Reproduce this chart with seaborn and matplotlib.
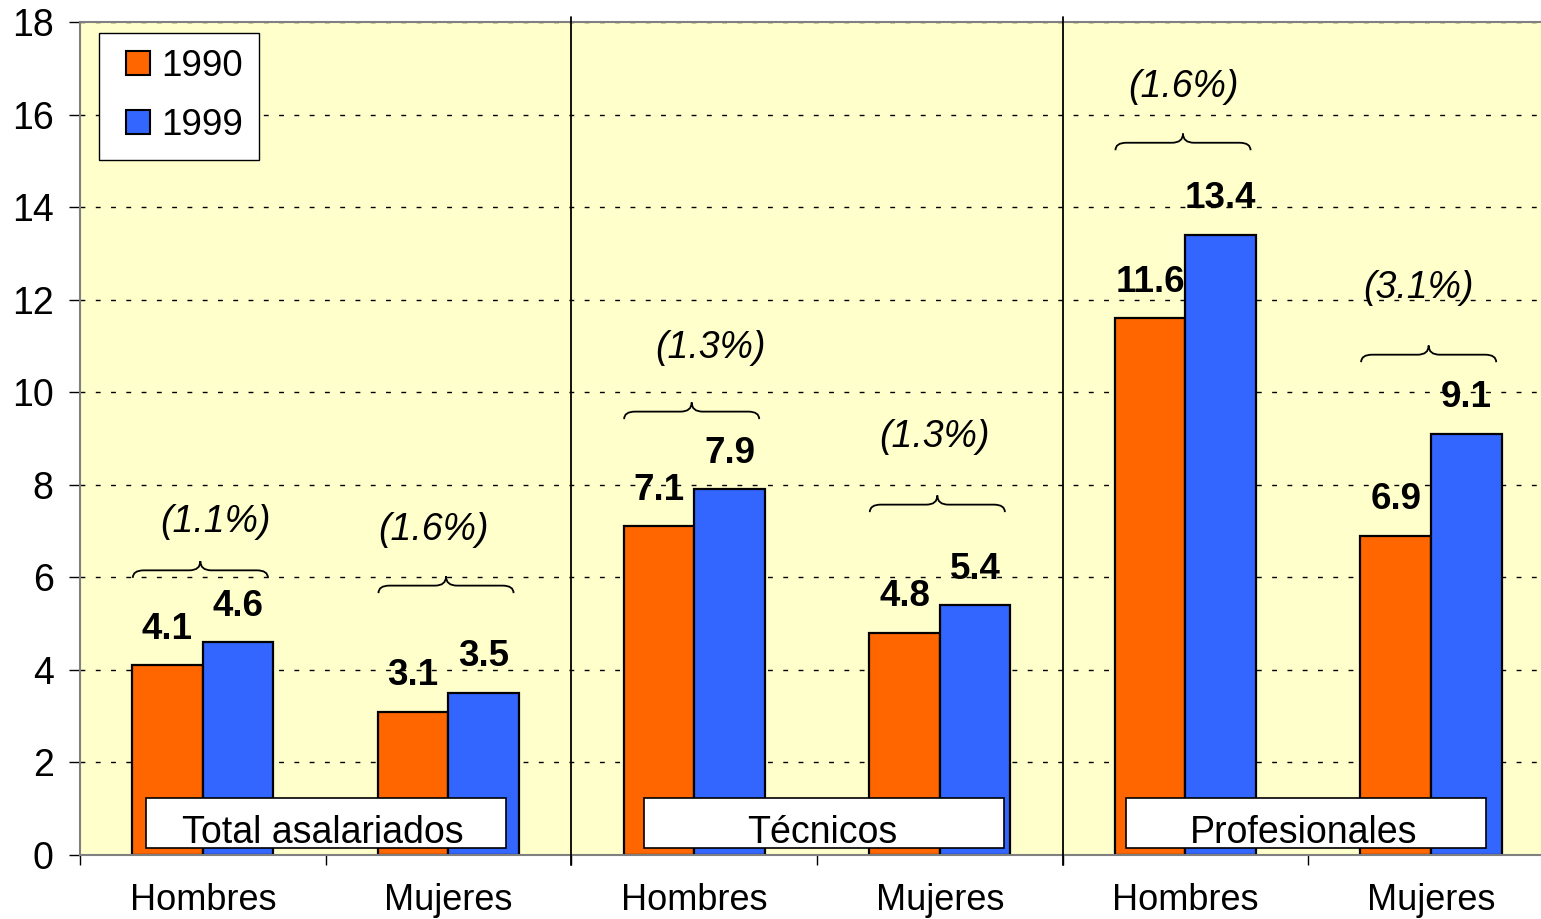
import matplotlib
matplotlib.use("Agg")
import matplotlib.pyplot as plt
from matplotlib.path import Path
from matplotlib.patches import PathPatch, Rectangle
from matplotlib.lines import Line2D
import seaborn as sns
import pandas as pd

# ---------------- data ----------------
groups = ["Total asalariados", "Técnicos", "Profesionales"]
sexes = ["Hombres", "Mujeres"]
years = ["1990", "1999"]
v1990 = [4.1, 3.1, 7.1, 4.8, 11.6, 6.9]
v1999 = [4.6, 3.5, 7.9, 5.4, 13.4, 9.1]
growth = ["(1.1%)", "(1.6%)", "(1.3%)", "(1.3%)", "(1.6%)", "(3.1%)"]

# annotation layout (brace base level and label level, in axis units)
brace_y = [5.99, 5.66, 9.42, 7.41, 15.23, 10.65]
label_y = [7.2, 7.02, 10.95, 9.03, 16.6, 12.25]
label_dx = [0.05, -0.06, 0.065, -0.02, -0.01, -0.05]
box_dx = [0.0, 0.03, -0.01]

keys = [f"{g}|{s}" for g in groups for s in sexes]
xlabels = [s for g in groups for s in sexes]
df = pd.DataFrame({
    "key": keys * 2,
    "year": [years[0]] * 6 + [years[1]] * 6,
    "value": v1990 + v1999,
})

colors = {"1990": "#FF6600", "1999": "#3366FF"}

sns.set_theme(style="white")
plt.rcParams["font.family"] = ["Liberation Sans", "DejaVu Sans"]
plt.rcParams["text.color"] = "black"
plt.rcParams["axes.labelcolor"] = "black"
plt.rcParams["xtick.color"] = "black"
plt.rcParams["ytick.color"] = "black"

fig = plt.figure(figsize=(15.41, 9.19), dpi=100)
ax = fig.add_axes([0.0519, 0.0696, 0.9565, 0.9064])
ax.set_facecolor("#FFFFCC")

sns.barplot(data=df, x="key", y="value", hue="year", order=keys,
            hue_order=years, palette=colors, width=0.575, saturation=1,
            edgecolor="black", linewidth=1.6, ax=ax, legend=False, zorder=2)

ax.set_xlim(-0.5, 5.5)
ax.set_ylim(0, 18)
ax.set_yticks(range(0, 19, 2))
ax.set_xticks(range(6))
ax.set_xticklabels(xlabels)
ax.set_xticks([i + 0.5 for i in range(-1, 5)], minor=True)
ax.set_xlabel("")
ax.set_ylabel("")
ax.tick_params(axis="y", labelsize=27, length=8, width=1, color="black",
               labelcolor="black", left=True, pad=11)
ax.tick_params(axis="x", which="major", labelsize=26, length=0, pad=20,
               labelcolor="black")
ax.tick_params(axis="x", which="minor", length=7, width=1, color="black",
               bottom=True)

ax.yaxis.grid(True, color="black", linestyle=(0, (3.5, 7.5)), linewidth=1.0)
ax.xaxis.grid(False)
ax.set_axisbelow(True)

for sp in ax.spines.values():
    sp.set_color("#808080")
    sp.set_linewidth(1.5)
    sp.set_visible(True)

# separators between groups
for xs in [1.5, 3.5]:
    ax.plot([xs, xs], [-0.22, 18.1], color="black", lw=1.3, clip_on=False,
            zorder=3)

# value labels
off = 0.575 / 4
for i in range(6):
    ax.text(i - off, v1990[i] + 0.78, f"{v1990[i]:.1f}", ha="center",
            va="center", fontsize=26.5, fontweight="bold", color="black", zorder=5)
    ax.text(i + off, v1999[i] + 0.78, f"{v1999[i]:.1f}", ha="center",
            va="center", fontsize=26.5, fontweight="bold", color="black", zorder=5)


def brace(xc, half, y0, h=0.36, r=0.045):
    xl, xr = xc - half, xc + half
    ym = y0 + h * 0.45
    verts = [(xl, y0), (xl, ym), (xl + r, ym), (xc - r, ym), (xc, ym),
             (xc, y0 + h), (xc, ym), (xc + r, ym), (xr - r, ym), (xr, ym),
             (xr, y0)]
    codes = [Path.MOVETO, Path.CURVE3, Path.CURVE3, Path.LINETO, Path.CURVE3,
             Path.CURVE3, Path.CURVE3, Path.CURVE3, Path.LINETO, Path.CURVE3,
             Path.CURVE3]
    ax.add_patch(PathPatch(Path(verts, codes), fill=False, edgecolor="black",
                           lw=1.3, zorder=4))


for i in range(6):
    brace(i - 0.01, 0.275, brace_y[i])
    ax.text(i + label_dx[i], label_y[i], growth[i], ha="center", va="center",
            fontsize=27, fontstyle="italic", color="black", zorder=5)

# group boxes
for gi, g in enumerate(groups):
    xc = 2 * gi + 0.5 + box_dx[gi]
    ax.add_patch(Rectangle((xc - 0.733, 0.15), 1.466, 1.08, facecolor="white",
                           edgecolor="black", lw=1.2, zorder=6))
    ax.text(xc - 0.01, 0.47, g, ha="center", va="center", fontsize=27,
            color="black", zorder=7)

handles = [Line2D([], [], marker="s", markersize=17, linestyle="None",
                  markerfacecolor=colors[y], markeredgecolor="black",
                  markeredgewidth=1.5, label=y) for y in years]
leg = ax.legend(handles=handles, loc="upper left",
                bbox_to_anchor=(0.0129, 0.987), borderaxespad=0,
                fontsize=26.5, frameon=True, fancybox=False, edgecolor="black",
                framealpha=1, handlelength=1.25, handleheight=0.7,
                handletextpad=0.0, labelspacing=0.66, borderpad=0.44,
                labelcolor="black")
leg.get_frame().set_linewidth(1.0)
leg.set_zorder(10)

fig.savefig("out.png", dpi=100)
